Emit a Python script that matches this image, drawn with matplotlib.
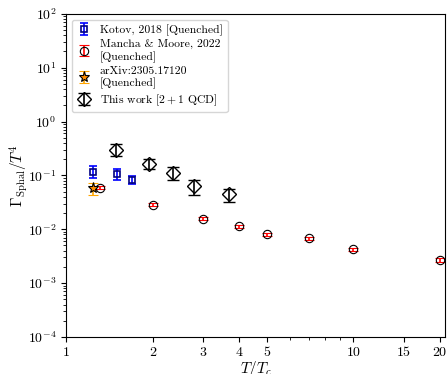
import matplotlib
matplotlib.use("Agg")
import matplotlib.pyplot as plt
from matplotlib.ticker import FixedLocator, NullFormatter

plt.rcParams["font.family"] = "serif"
plt.rcParams["font.serif"] = ["cmr10"]
plt.rcParams["mathtext.fontset"] = "cm"
plt.rcParams["axes.formatter.use_mathtext"] = True
plt.rcParams["axes.unicode_minus"] = False

# Kotov, 2018 [Quenched]
kotov_t = [1.24, 1.50, 1.70]
kotov_g = [0.115, 0.104, 0.081]
kotov_lo = [0.089, 0.083, 0.068]
kotov_hi = [0.149, 0.133, 0.097]

# Mancha & Moore, 2022 [Quenched]
mancha_t = [1.31, 2.0, 3.0, 4.0, 5.0, 7.0, 10.0, 20.0]
mancha_g = [0.059, 0.0287, 0.0158, 0.0114, 0.0080, 0.0068, 0.00427, 0.00267]
mancha_err = [0.004, 0.0018, 0.0010, 0.0007, 0.0005, 0.0005, 0.0003, 0.0002]

# arXiv:2305.17120 [Quenched]
arxiv_t = [1.24]
arxiv_g = [0.058]
arxiv_lo = [0.044]
arxiv_hi = [0.073]

# This work [2+1 QCD]
this_t = [1.49, 1.94, 2.36, 2.78, 3.68]
this_g = [0.299, 0.165, 0.112, 0.0626, 0.0445]
this_lo = [0.225, 0.131, 0.083, 0.044, 0.032]
this_hi = [0.386, 0.198, 0.142, 0.083, 0.057]

x_ticks = [1, 2, 3, 4, 5, 10, 15, 20]


def asym(vals, lo, hi):
    return [[v - l for v, l in zip(vals, lo)], [h - v for v, h in zip(vals, hi)]]


fig = plt.figure(figsize=(4.47, 3.74), dpi=100)
ax = fig.add_axes([0.148, 0.099, 0.848, 0.864])

ax.errorbar(kotov_t, kotov_g, yerr=asym(kotov_g, kotov_lo, kotov_hi),
            fmt="s", mfc="none", mec="navy", color="blue", ms=5,
            capsize=3.2, elinewidth=1.2, capthick=1.5, mew=1.2,
            label="Kotov, 2018 [Quenched]")
ax.errorbar(mancha_t, mancha_g, yerr=mancha_err,
            fmt="o", mfc="none", mec="black", color="red", ms=6,
            capsize=3.6, elinewidth=1.2, capthick=1.2, mew=0.8,
            label="Mancha & Moore, 2022\n[Quenched]")
ax.errorbar(arxiv_t, arxiv_g, yerr=asym(arxiv_g, arxiv_lo, arxiv_hi),
            fmt="*", mfc="darkorange", mec="black", color="orange", ms=8,
            capsize=3.6, elinewidth=1.2, capthick=1.2, mew=0.8,
            label="arXiv:2305.17120\n[Quenched]")
ax.errorbar(this_t, this_g, yerr=asym(this_g, this_lo, this_hi),
            fmt="D", mfc="none", mec="black", color="black", ms=7,
            capsize=4.3, elinewidth=1.2, capthick=1.2, mew=1.0,
            label="This work [$2+1$ QCD]")

ax.set_xscale("log")
ax.set_yscale("log")
ax.set_xlim(1, 20.9)
ax.set_ylim(1e-4, 1e2)
ax.xaxis.set_major_locator(FixedLocator(x_ticks))
ax.set_xticklabels([str(t) for t in x_ticks])
ax.xaxis.set_minor_formatter(NullFormatter())
ax.tick_params(labelsize=10)

ax.set_xlabel(r"$T/T_c$", fontsize=11)
ax.set_ylabel(r"$\Gamma_{\rm Sphal}/T^4$", fontsize=11)
ax.xaxis.set_label_coords(0.5, -0.068)
ax.yaxis.set_label_coords(-0.095, 0.5)

ax.legend(loc="upper left", fontsize=8.4, handlelength=1.2, borderpad=0.4,
          labelspacing=0.3, handletextpad=0.8)

fig.savefig("out.png", dpi=100)
